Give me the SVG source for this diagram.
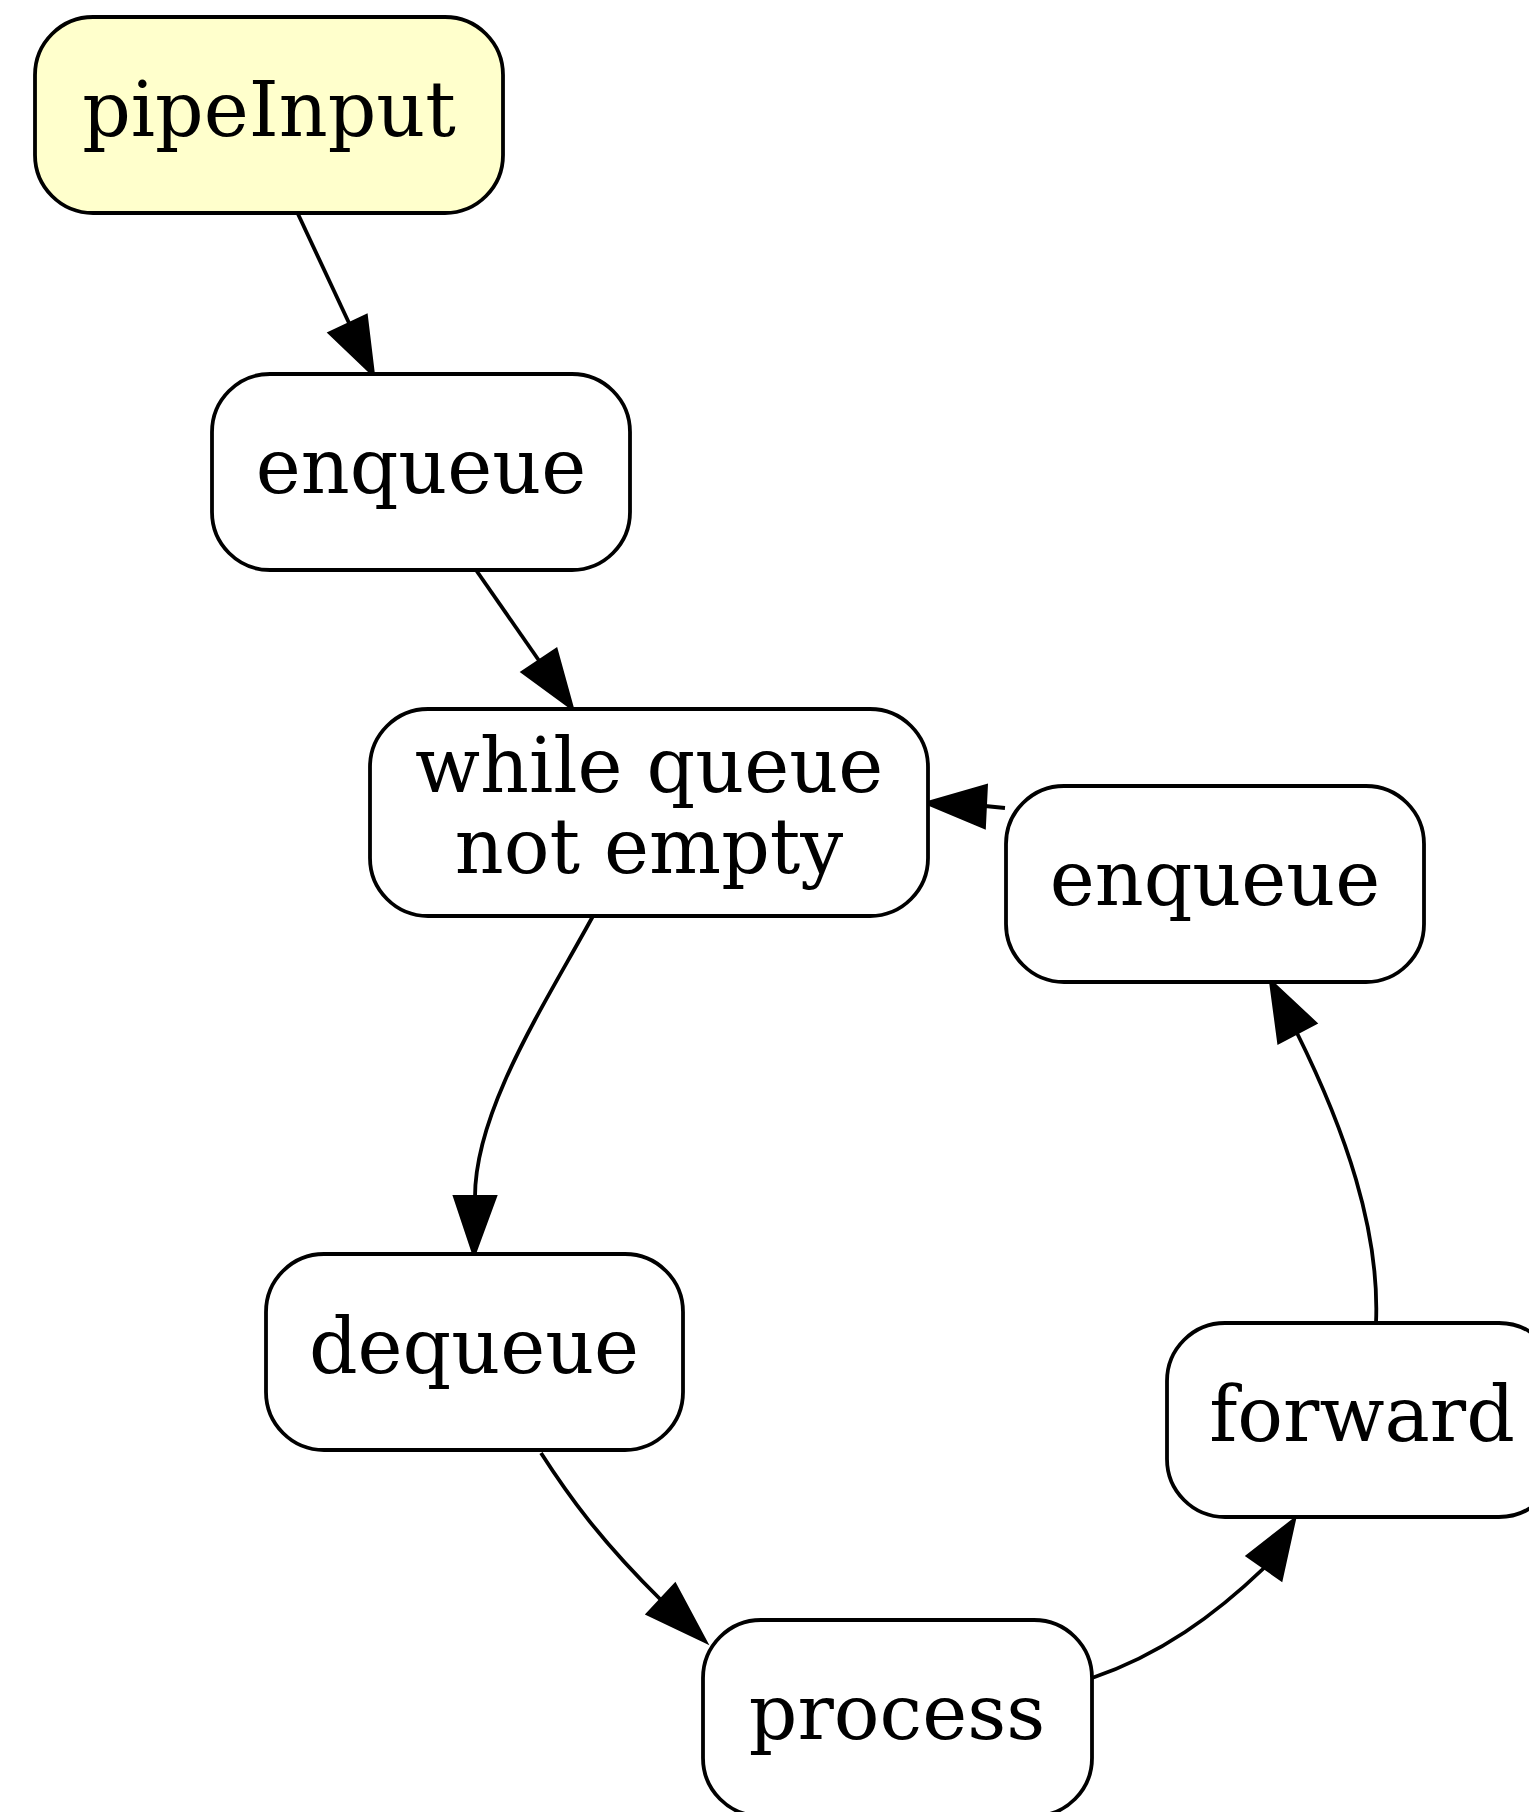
<svg xmlns="http://www.w3.org/2000/svg" width="1529" height="1812" viewBox="0 0 1529 1812">
  <defs>
    <style>
      .node rect { fill: #ffffff; stroke: #000000; stroke-width: 3.8; }
      .node.start rect { fill: #ffffcc; }
      .node text { font-family: "DejaVu Serif", "Liberation Serif", serif; font-size: 76px; fill: #000000; text-anchor: middle; }
      .edges path { fill: none; stroke: #000000; stroke-width: 3.8; }
      .edges polygon { fill: #000000; stroke: #000000; stroke-width: 3.8; stroke-linejoin: miter; }
    </style>
  </defs>
  <rect x="0" y="0" width="1529" height="1812" fill="#ffffff"/>

  <!-- connectors: line + filled arrowhead per edge -->
  <g id="edges" class="edges">
    <g id="e_pipeInput_enqueue1">
      <path d="M298,214 L349,323"/>
      <polygon points="373,374 330,333 366,316"/>
    </g>
    <g id="e_enqueue1_while">
      <path d="M476,570 L540,662"/>
      <polygon points="572,708 523,672 556,650"/>
    </g>
    <g id="e_while_dequeue">
      <path d="M593,916 C545,1004 475,1110 475,1197"/>
      <polygon points="474,1254 455,1197 495,1197"/>
    </g>
    <g id="e_dequeue_process">
      <path d="M541,1453 C568,1495 600,1540 662,1601"/>
      <polygon points="705,1641 648,1614 675,1585"/>
    </g>
    <g id="e_process_forward">
      <path d="M1092,1678 C1160,1655 1215,1615 1264,1568"/>
      <polygon points="1294,1520 1281,1579 1248,1556"/>
    </g>
    <g id="e_forward_enqueue2">
      <path d="M1376,1323 C1380,1230 1345,1130 1297,1033"/>
      <polygon points="1271,982 1315,1023 1279,1042"/>
    </g>
    <g id="e_enqueue2_while">
      <path d="M1005,808 L985,806"/>
      <polygon points="927,803 986,786 984,827"/>
    </g>
  </g>

  <!-- nodes -->
  <g id="pipeInput" class="node start">
    <rect x="35" y="17" width="468" height="196" rx="58" ry="58"/>
    <text x="269" y="136">pipeInput</text>
  </g>
  <g id="enqueue1" class="node">
    <rect x="212" y="374" width="418" height="196" rx="58" ry="58"/>
    <text x="421" y="493">enqueue</text>
  </g>
  <g id="whileQueue" class="node">
    <rect x="370" y="709" width="558" height="207" rx="58" ry="58"/>
    <text x="649" y="792">while queue</text>
    <text x="649" y="873">not empty</text>
  </g>
  <g id="enqueue2" class="node">
    <rect x="1006" y="786" width="418" height="196" rx="58" ry="58"/>
    <text x="1215" y="905">enqueue</text>
  </g>
  <g id="dequeue" class="node">
    <rect x="266" y="1254" width="417" height="196" rx="58" ry="58"/>
    <text x="474" y="1373">dequeue</text>
  </g>
  <g id="process" class="node">
    <rect x="703" y="1620" width="389" height="196" rx="58" ry="58"/>
    <text x="897" y="1739">process</text>
  </g>
  <g id="forward" class="node">
    <rect x="1167" y="1323" width="390" height="194" rx="58" ry="58"/>
    <text x="1362" y="1441">forward</text>
  </g>
</svg>
